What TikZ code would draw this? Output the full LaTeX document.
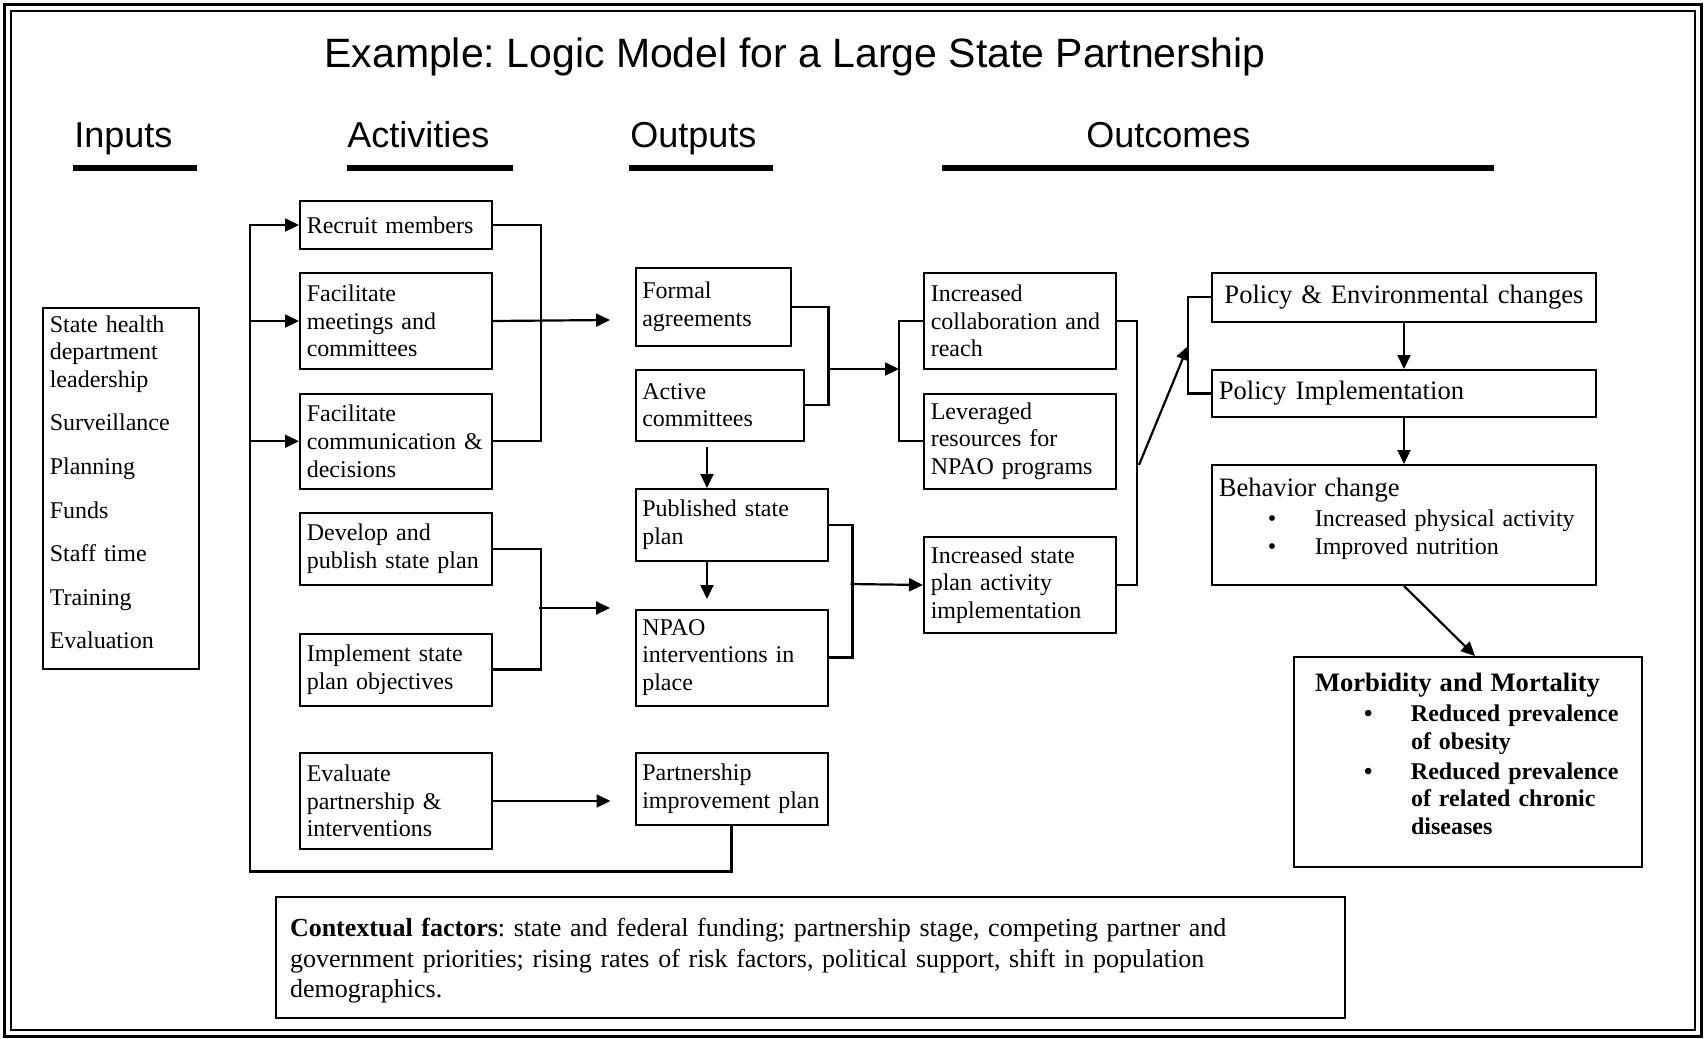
\documentclass[tikz,border=0pt]{standalone}
\usepackage{fontspec}
\setmainfont{Liberation Serif}
\newfontfamily\headfont{Liberation Sans}
\usetikzlibrary{arrows.meta,calc}
\frenchspacing

\newcommand{\bulitem}[1]{\hspace*{24.5pt}\makebox[23.5pt][l]{\textbullet}#1}
\newcommand{\bulcont}[1]{\hspace*{48pt}#1}

\begin{document}
\begin{tikzpicture}[
  x=0.5pt, y=-0.5pt,
  every node/.style = {font=\fontsize{12}{13.8}\selectfont},
  box/.style = {draw, line width=1pt, anchor=north west, align=left, inner xsep=3.4pt, inner ysep=0pt},
  head/.style = {anchor=base west, inner sep=0pt, font=\headfont\fontsize{18}{22}\selectfont},
  conn/.style = {line width=1.1pt},
  arr/.style = {line width=1.1pt, -{Triangle[length=7pt,width=6.5pt]}},
  bar/.style = {line width=3pt}
]
  \useasboundingbox (0,0) rectangle (1705,1039);
  \draw[line width=1.5pt] (4.5,4.5) rectangle (1701,1036);
  \draw[line width=1pt] (10.5,10.5) rectangle (1695,1030);

  % title and column heads
  \node[head, font=\headfont\fontsize{20.5}{24}\selectfont] (title) at (324,67) {Example: Logic Model for a Large State Partnership};
  \node[head] (hin) at (74,147) {Inputs};
  \node[head] (hact) at (347,147) {Activities};
  \node[head] (hout) at (630,147) {Outputs};
  \node[head] (hoc) at (1086,147) {Outcomes};
  \draw[bar] (73,168) -- (197,168);
  \draw[bar] (347,168) -- (513,168);
  \draw[bar] (629,168) -- (773,168);
  \draw[bar] (942,168) -- (1494,168);

  % inputs
  \node[box, text width=70.95pt, minimum height=180.75pt, text height=8.5pt, text depth=164.75pt] (inputs) at (42,306.5)
    {State health\\department\\leadership\\[8pt]Surveillance\\[8pt]Planning\\[8pt]Funds\\[8pt]Staff time\\[8pt]Training\\[8pt]Evaluation};

  % activities
  \node[box, text width=89.2pt, minimum height=24pt] (recruit) at (299,200) {Recruit members};
  \node[box, text width=89.2pt, minimum height=48pt] (meet) at (299,272) {Facilitate\\meetings and\\committees};
  \node[box, text width=89.2pt, minimum height=47.75pt] (comm) at (299,392.5) {Facilitate\\communication \&\\decisions};
  \node[box, text width=89.2pt, minimum height=36pt] (develop) at (299,512) {Develop and\\publish state plan};
  \node[box, text width=89.2pt, minimum height=36pt] (implement) at (299,632.5) {Implement state\\plan objectives};
  \node[box, text width=89.2pt, minimum height=48pt] (evaluate) at (299,752) {Evaluate\\partnership \&\\interventions};

  % outputs
  \node[box, text width=70.7pt, minimum height=39pt] (formal) at (634.5,267) {Formal\\agreements};
  \node[box, text width=77.2pt, minimum height=35.75pt] (active) at (634.5,368.5) {Active\\committees};
  \node[box, text width=89.2pt, minimum height=36pt] (published) at (634.5,488) {Published state\\plan};
  \node[box, text width=89.2pt, minimum height=48pt] (npao) at (634.5,608.5) {NPAO\\interventions in\\place};
  \node[box, text width=89.2pt, minimum height=36pt] (partner) at (634.5,752) {Partnership\\improvement plan};

  % short term outcomes
  \node[box, text width=89.2pt, minimum height=48pt] (collab) at (923,272) {Increased\\collaboration and\\reach};
  \node[box, text width=89.2pt, minimum height=47.75pt] (lever) at (923,392.5) {Leveraged\\resources for\\NPAO programs};
  \node[box, text width=89.2pt, minimum height=48pt] (stateplan) at (923,536) {Increased state\\plan activity\\implementation};

  % long term outcomes
  \node[box, align=center, text width=185.2pt, minimum height=24.25pt, font=\fontsize{13.3}{15}\selectfont] (pe) at (1211,272) {Policy \& Environmental changes};
  \node[box, text width=185.2pt, minimum height=23.5pt, font=\fontsize{13.3}{15}\selectfont] (pi) at (1211,369) {Policy Implementation};
  \node[box, text width=185.2pt, minimum height=60pt, text height=9pt, text depth=38pt] (behav) at (1211,464)
    {{\fontsize{13.3}{13.8}\selectfont Behavior change}\\[1.2pt]\bulitem{Increased physical activity}\\[0.2pt]\bulitem{Improved nutrition}};
  \node[box, inner xsep=10.5pt, text width=153pt, minimum height=105pt, text height=9pt, text depth=79.4pt, font=\fontsize{12}{13.8}\selectfont\bfseries] (morb) at (1293,656)
    {{\fontsize{13.3}{13.8}\selectfont Morbidity and Mortality}\\[1.2pt]\bulitem{Reduced prevalence}\\\bulcont{of obesity}\\[1.2pt]\bulitem{Reduced prevalence}\\\bulcont{of related chronic}\\\bulcont{diseases}};

  % context
  \node[box, inner xsep=7.25pt, text width=520.25pt, minimum height=60.5pt, text height=9pt, text depth=29.7pt, font=\fontsize{13}{15.2}\selectfont] (context) at (274.5,896)
    {\textbf{Contextual factors}: state and federal funding; partnership stage, competing partner and\\government priorities; rising rates of risk factors, political support, shift in population\\demographics.};

  % feedback loop
  \coordinate (loopB) at (250,871.5);
  \draw[arr] (partner.south) |- (loopB) |- (recruit.west);
  \draw[arr] (loopB |- meet.west) -- (meet.west);
  \draw[arr] (loopB |- comm.west) -- (comm.west);

  % activities to outputs
  \draw[conn] (recruit.east) -- ++(48,0) |- (comm.east);
  \coordinate (actTip) at (610,320);
  \draw[arr] (meet.east) -- (actTip);
  \draw[conn] (develop.east) -- ++(48,0) |- (implement.east);
  \coordinate (planJoin) at (539,608);
  \coordinate (planTip) at (610,608);
  \draw[arr] (planJoin) -- (planTip);
  \draw[arr] (evaluate.east) -- ([xshift=-12pt]partner.west |- evaluate.east);

  % outputs to outcomes
  \draw[conn] (formal.east) -| (published.east |- active.east) -- (active.east);
  \coordinate (faJoin) at (826.5,369);
  \coordinate (clJoin) at (899,369);
  \draw[arr] (faJoin) -- (clJoin);
  \draw[conn] (collab.west) -- (clJoin |- collab.west) |- (lever.west);
  \coordinate (apTop) at (707,447);
  \draw[arr] (apTop) -- (apTop |- published.north);
  \coordinate (pnTip) at (707,599);
  \draw[arr] (pnTip |- published.south) -- (pnTip);
  \draw[conn] (published.east) -- ++(24,0) |- (npao.east);
  \coordinate (pnJoin) at (850.5,584);
  \draw[arr] (pnJoin) -- (stateplan.west);

  % on to long term outcomes
  \draw[conn] (collab.east) -- ++(20,0) |- (stateplan.east);
  \coordinate (diagA) at (1139,465);
  \coordinate (diagB) at (1188,346);
  \draw[arr] (diagA) -- (diagB);
  \draw[conn] (pe.west) -- (diagB |- pe.west) |- (pi.west);
  \draw[arr] (pe.south) -- (pi.north);
  \draw[arr] (pi.south) -- (behav.north);
  \draw[arr] (behav.south) -- ([xshift=3.5pt]morb.north);
\end{tikzpicture}
\end{document}
